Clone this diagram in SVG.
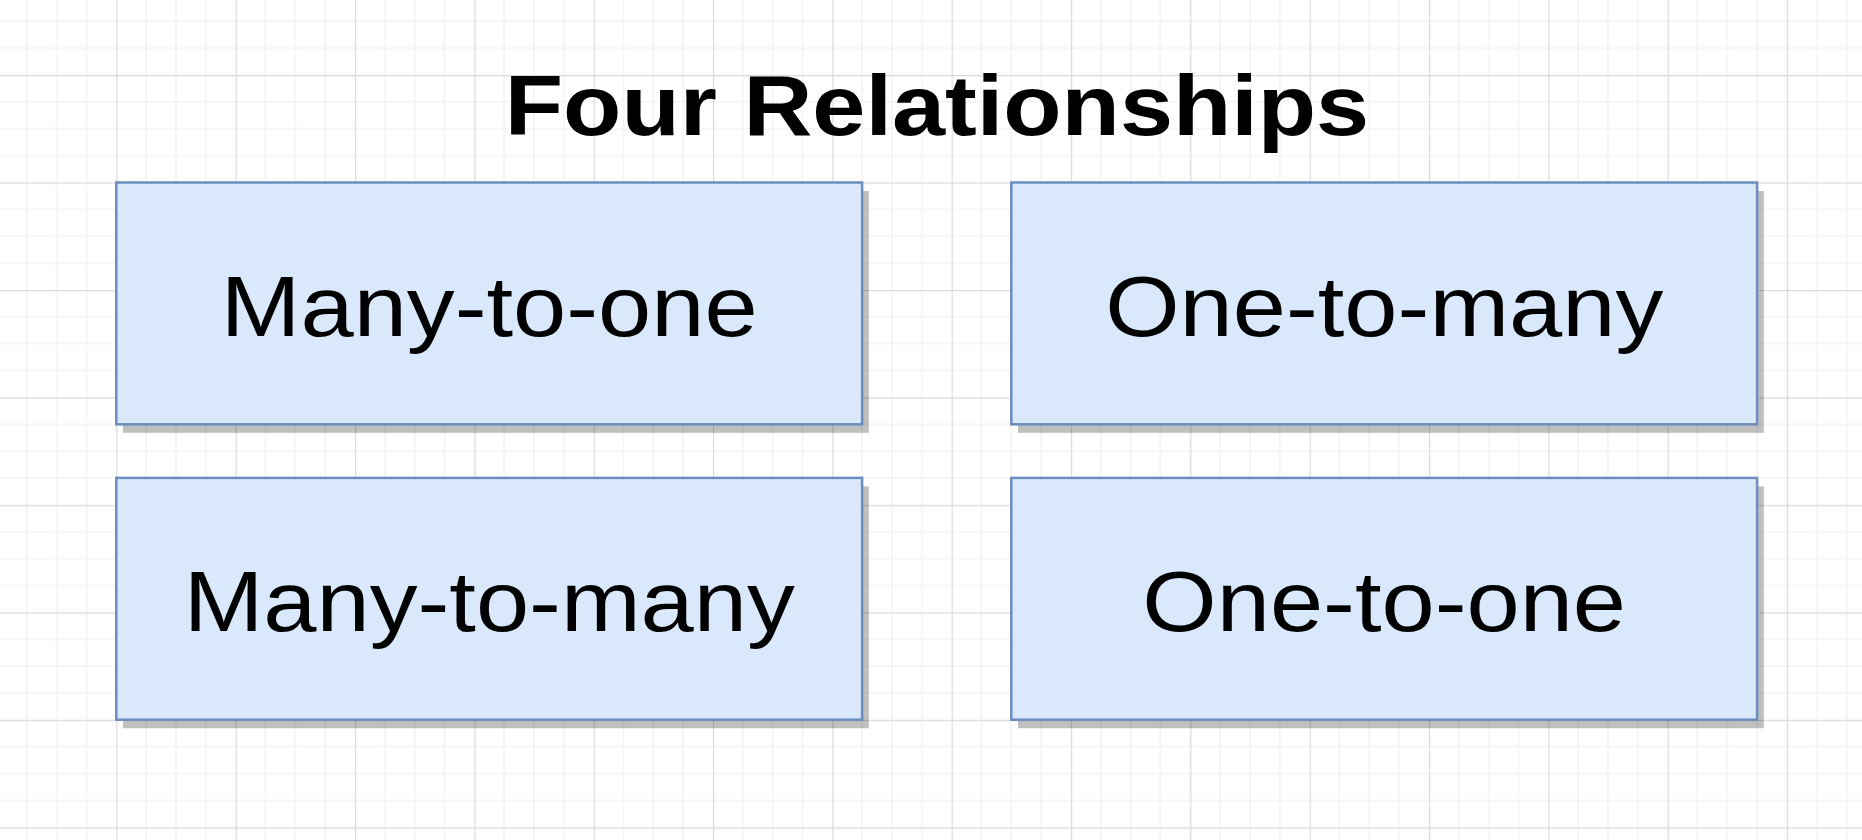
<svg xmlns="http://www.w3.org/2000/svg" width="1862" height="840" viewBox="0 0 1862 840">
  <style>
    .box { fill: #dae8fc; stroke: #6c8ebf; stroke-width: 2.5; }
    .shadow { fill: #000000; fill-opacity: 0.25; }
    .label { font-family: "Liberation Sans", Arial, Helvetica, sans-serif; font-size: 86px; fill: #000000; text-anchor: middle; }
    .title { font-family: "Liberation Sans", Arial, Helvetica, sans-serif; font-size: 86px; font-weight: bold; fill: #000000; text-anchor: middle; }
    .minor { stroke: #efefef; stroke-width: 1.2; }
    .major { stroke: #d9d9d9; stroke-width: 1.4; }
  </style>
  <defs>
    <pattern id="grid" patternUnits="userSpaceOnUse" x="-3.03" y="-32.47" width="119.33" height="107.47">
      <line class="minor" x1="29.83" y1="0" x2="29.83" y2="107.47"/>
      <line class="minor" x1="59.66" y1="0" x2="59.66" y2="107.47"/>
      <line class="minor" x1="89.5" y1="0" x2="89.5" y2="107.47"/>
      <line class="minor" x1="0" y1="26.87" x2="119.33" y2="26.87"/>
      <line class="minor" x1="0" y1="53.73" x2="119.33" y2="53.73"/>
      <line class="minor" x1="0" y1="80.6" x2="119.33" y2="80.6"/>
      <line class="major" x1="0.5" y1="0" x2="0.5" y2="107.47"/>
      <line class="major" x1="0" y1="0.5" x2="119.33" y2="0.5"/>
    </pattern>
  </defs>
  <rect x="0" y="0" width="1862" height="840" fill="#ffffff"/>
  <rect x="0" y="0" width="1862" height="840" fill="url(#grid)"/>

  <g id="title">
    <text class="title" transform="translate(937,134.5) scale(1.11,1)" x="0" y="0">Four Relationships</text>
  </g>

  <g id="connectors"></g>

  <g id="many-to-one">
    <rect class="shadow" x="123" y="191" width="745.8" height="241.8"/>
    <rect class="box" x="116.3" y="182.5" width="745.8" height="241.8"/>
    <text class="label" transform="translate(489.2,336) scale(1.112,1)" x="0" y="0">Many-to-one</text>
  </g>

  <g id="one-to-many">
    <rect class="shadow" x="1018" y="191" width="745.8" height="241.8"/>
    <rect class="box" x="1011.3" y="182.5" width="745.8" height="241.8"/>
    <text class="label" transform="translate(1384.2,336) scale(1.112,1)" x="0" y="0">One-to-many</text>
  </g>

  <g id="many-to-many">
    <rect class="shadow" x="123" y="486.4" width="745.8" height="241.8"/>
    <rect class="box" x="116.3" y="477.9" width="745.8" height="241.8"/>
    <text class="label" transform="translate(489.2,631) scale(1.112,1)" x="0" y="0">Many-to-many</text>
  </g>

  <g id="one-to-one">
    <rect class="shadow" x="1018" y="486.4" width="745.8" height="241.8"/>
    <rect class="box" x="1011.3" y="477.9" width="745.8" height="241.8"/>
    <text class="label" transform="translate(1384.2,631) scale(1.112,1)" x="0" y="0">One-to-one</text>
  </g>
</svg>
